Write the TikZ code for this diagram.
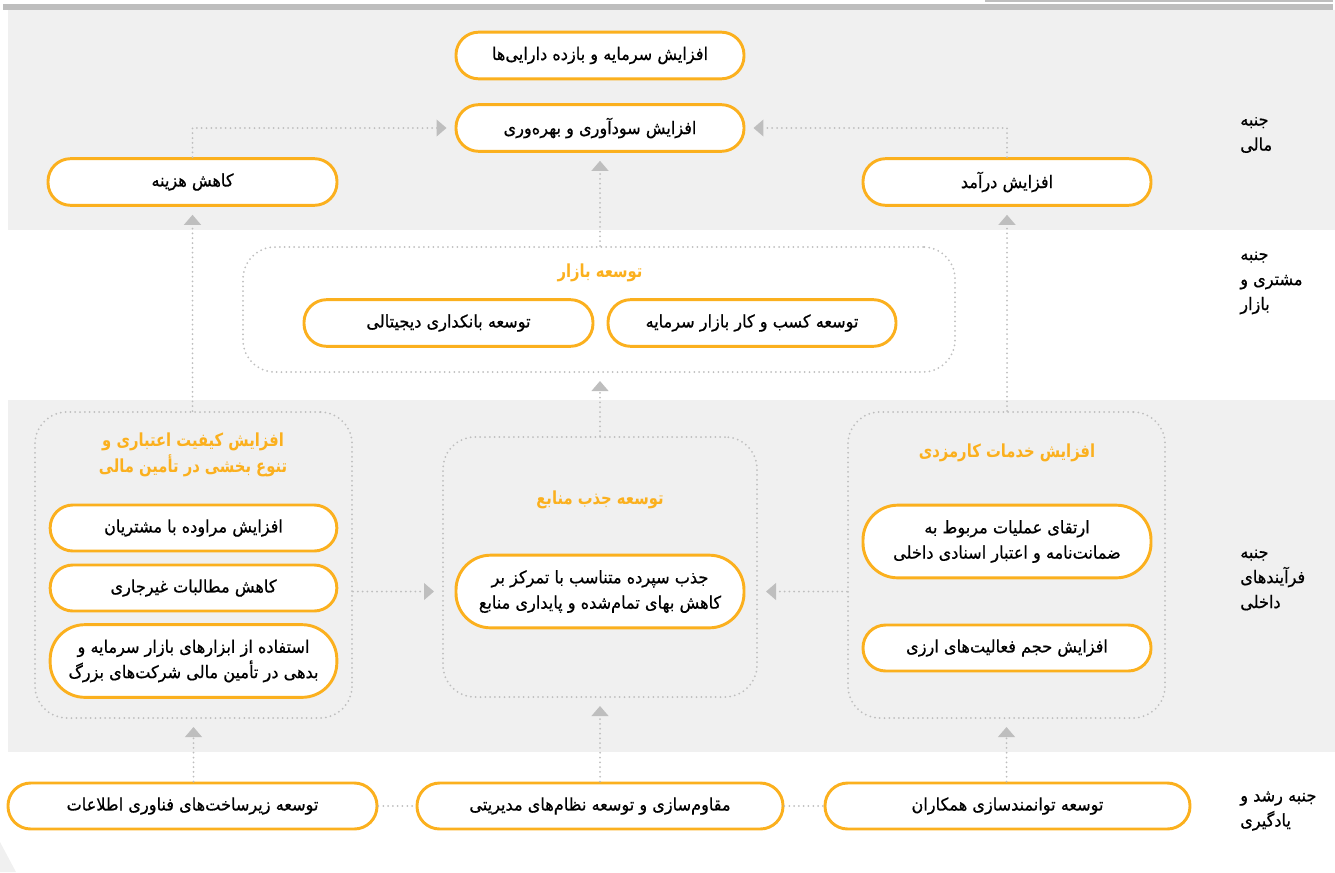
\documentclass[tikz,border=0pt]{standalone}
\usepackage{fontspec}
\usepackage{xcolor}
\usepackage{tikz}
\usetikzlibrary{arrows.meta}
\TeXXeTstate=1
\newfontfamily\fa[Script=Arabic,FakeStretch=0.93,FakeBold=0.6]{DejaVu Sans}
\newfontfamily\fabold[Script=Arabic,FakeStretch=0.82]{DejaVu Sans Bold}
\newcommand{\rl}[1]{\beginR #1\endR}
\definecolor{bandgray}{RGB}{240,240,240}
\definecolor{linegray}{RGB}{190,190,190}
\definecolor{goldline}{RGB}{251,176,30}
\tikzset{
  goal node/.style={draw=goldline,line width=2.2pt,fill=white,rounded corners=17pt,
    minimum width=216pt,minimum height=35pt,inner sep=2pt,align=center,
    font=\fa\fontsize{13}{19}\selectfont},
  tall node/.style={goal node,rounded corners=26pt,minimum height=54.5pt},
  group box/.style={draw=linegray,line width=1.5pt,dash pattern=on 0pt off 3.6pt,
    line cap=round,rounded corners=24pt,inner sep=0pt},
  group title/.style={text=goldline,align=center,font=\fabold\fontsize{13.5}{19}\selectfont},
  side label/.style={anchor=west,align=left,inner sep=0pt,font=\fa\fontsize{13}{18.75}\selectfont},
  link/.style={draw=linegray,line width=1.5pt,dash pattern=on 0pt off 3.6pt,line cap=round},
  flow/.style={link,->,shorten >=6pt}
}

\begin{document}
\begin{tikzpicture}[x=0.75pt,y=-0.75pt,>={Triangle[width=12.5pt,length=7.5pt]}]
\useasboundingbox (0,0) rectangle (1335,872);
% background bands
\fill[bandgray] (8,10) rectangle (1335,230);
\fill[bandgray] (8,400) rectangle (1335,752);
\fill[linegray] (3,4) rectangle (1333,10);
\fill[linegray] (985,0) rectangle (1333,2);
\fill[bandgray] (0,842) -- (16,872) -- (0,872) -- cycle;

% side labels
\node[side label] (fin) at (1240,135) {\rl{جنبه}\\\rl{مالی}};
\node[side label] (cust) at (1240,283) {\rl{جنبه}\\\rl{مشتری و}\\\rl{بازار}};
\node[side label] (proc) at (1240,580) {\rl{جنبه}\\\rl{فرآیندهای}\\\rl{داخلی}};
\node[side label] (learn) at (1240,811) {\rl{جنبه رشد و}\\\rl{یادگیری}};

% group boxes
\node[group box,minimum width=534pt,minimum height=93.75pt] (market) at (599,309.5) {};
\node[group box,minimum width=237.75pt,minimum height=229.5pt] (creditgrp) at (193.5,565) {};
\node[group box,minimum width=235.5pt,minimum height=195pt] (resgrp) at (600,567) {};
\node[group box,minimum width=237.75pt,minimum height=229.5pt] (feegrp) at (1006.5,565) {};

\node[group title] (markettitle) at (600,273) {\rl{توسعه بازار}};
\node[group title] (credittitle) at (193,455) {\rl{افزایش کیفیت اعتباری و}\\\rl{تنوع بخشی در تأمین مالی}};
\node[group title] (restitle) at (600,500) {\rl{توسعه جذب منابع}};
\node[group title] (feetitle) at (1007,453) {\rl{افزایش خدمات کارمزدی}};

% financial
\node[goal node] (assets) at (600,55.5) {\rl{افزایش سرمایه و بازده دارایی^^^^200cها}};
\node[goal node] (profit) at (600,128) {\rl{افزایش سودآوری و بهره^^^^200cوری}};
\node[goal node,minimum width=216.75pt] (cost) at (192.5,182) {\rl{کاهش هزینه}};
\node[goal node] (revenue) at (1007,182) {\rl{افزایش درآمد}};

% customer and market
\node[goal node,minimum width=216.75pt] (digital) at (448.5,323) {\rl{توسعه بانکداری دیجیتالی}};
\node[goal node] (capmkt) at (752,323) {\rl{توسعه کسب و کار بازار سرمایه}};

% internal processes
\node[goal node,minimum width=215pt,minimum height=34.5pt] (clients) at (193.5,528) {\rl{افزایش مراوده با مشتریان}};
\node[goal node,minimum width=215pt,minimum height=34.5pt] (claims) at (193.5,588) {\rl{کاهش مطالبات غیرجاری}};
\node[tall node,minimum width=215pt] (bonds) at (193.5,661) {\rl{استفاده از ابزارهای بازار سرمایه و}\\\rl{بدهی در تأمین مالی شرکت^^^^200cهای بزرگ}};
\node[tall node] (deposit) at (600,591.5) {\rl{جذب سپرده متناسب با تمرکز بر}\\\rl{کاهش بهای تمام^^^^200cشده و پایداری منابع}};
\node[tall node] (guarantee) at (1007,541.5) {\rl{ارتقای عملیات مربوط به}\\\rl{ضمانت^^^^200cنامه و اعتبار اسنادی داخلی}};
\node[goal node,minimum height=34.5pt] (forex) at (1007,648) {\rl{افزایش حجم فعالیت^^^^200cهای ارزی}};

% learning and growth
\node[goal node,minimum width=276.75pt,minimum height=34.5pt] (infra) at (192.5,806) {\rl{توسعه زیرساخت^^^^200cهای فناوری اطلاعات}};
\node[goal node,minimum width=274.5pt,minimum height=34.5pt] (mgmt) at (600,806) {\rl{مقاوم^^^^200cسازی و توسعه نظام^^^^200cهای مدیریتی}};
\node[goal node,minimum width=273.75pt,minimum height=34.5pt] (staff) at (1007.5,806) {\rl{توسعه توانمندسازی همکاران}};

% connectors
\draw[flow] (cost.north) |- (profit.west);
\draw[flow] (revenue.north) |- (profit.east);
\draw[flow] (market.north -| profit.south) -- (profit.south);
\draw[flow] (resgrp.north) -- (resgrp.north |- market.south);
\draw[flow] (creditgrp.north -| cost.south) -- (cost.south);
\draw[flow] (feegrp.north -| revenue.south) -- (revenue.south);
\draw[flow] (creditgrp.east |- deposit) -- (resgrp.west |- deposit);
\draw[flow] (feegrp.west |- deposit) -- (resgrp.east |- deposit);
\draw[flow] (infra.north -| creditgrp.south) -- (creditgrp.south);
\draw[flow] (mgmt.north) -- (resgrp.south);
\draw[flow] (staff.north -| feegrp.south) -- (feegrp.south);
\draw[link] (infra) -- (mgmt);
\draw[link] (mgmt) -- (staff);
\end{tikzpicture}
\end{document}
